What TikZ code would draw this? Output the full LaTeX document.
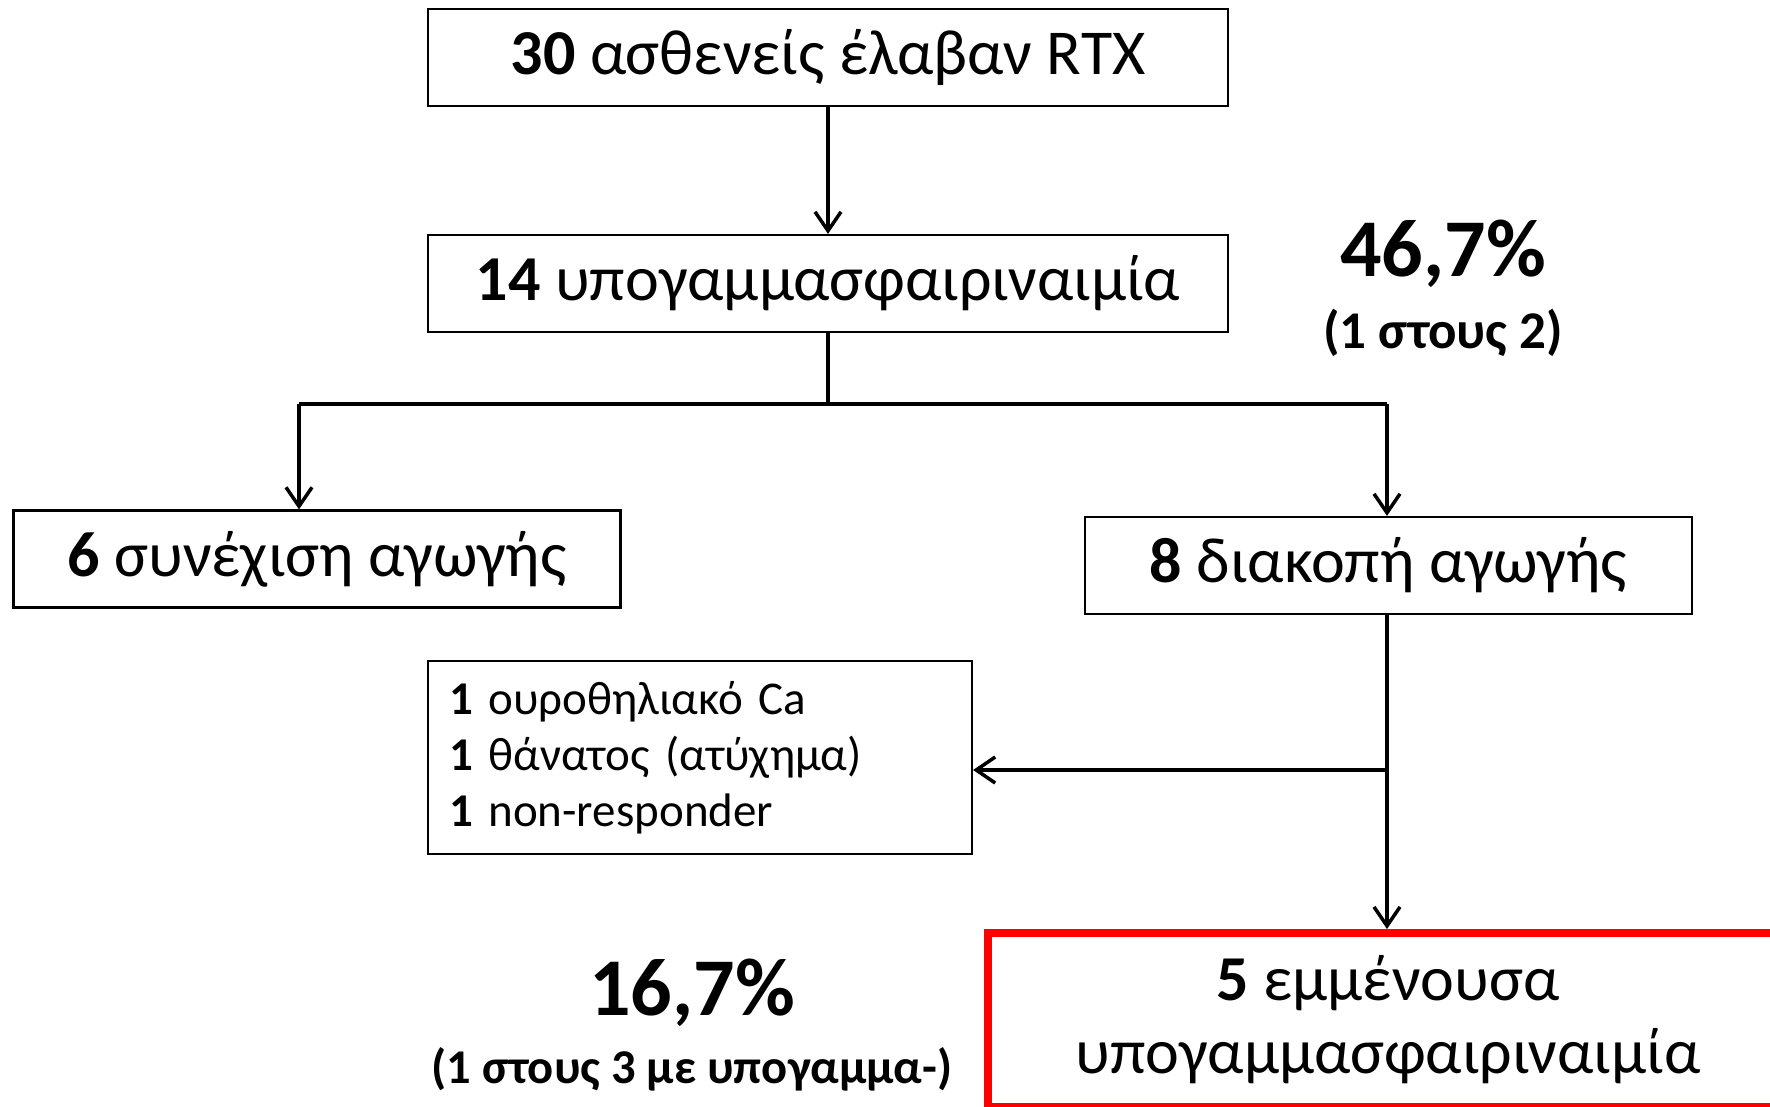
\documentclass[tikz,border=0pt]{standalone}
\usepackage{fontspec}
\setmainfont{Carlito}
\usetikzlibrary{arrows.meta}
\begin{document}
\begin{tikzpicture}[x=1pt,y=-1pt,
 boxstyle/.style={draw,line width=2.2pt,inner sep=0pt,minimum height=97pt,font=\fontsize{64}{76}\selectfont},
 liststyle/.style={draw,line width=2.2pt,inner xsep=21pt,inner ysep=0pt,minimum height=193pt,text width=502pt,align=left,font=\fontsize{47}{56}\selectfont},
 redstyle/.style={draw=red,line width=8pt,inner sep=0pt,minimum width=800pt,minimum height=174pt,align=center,font=\fontsize{64}{73}\selectfont},
 bigpct/.style={font=\fontsize{82}{90}\bfseries\selectfont},
 smallpct/.style={font=\fontsize{48}{56}\bfseries\selectfont},
 conn/.style={line width=3.5pt},
 arr/.style={conn,-{Straight Barb[length=19pt,width=26pt,line width=3.5pt]}}]
\useasboundingbox (0,0) rectangle (1770,1106);
\node[boxstyle,minimum width=800pt](total) at (828,57.5){\textbf{30} ασθενείς έλαβαν RTX};
\node[boxstyle,minimum width=800pt](hypo) at (828,283.5){\textbf{14} υπογαμμασφαιριναιμία};
\node[boxstyle,minimum width=607pt](cont) at (317,559){\textbf{6} συνέχιση αγωγής};
\node[boxstyle,minimum width=607pt](stop) at (1388.5,565.5){\textbf{8} διακοπή αγωγής};
\node[liststyle](lost) at (700,757.5){\textbf{1} ουροθηλιακό Ca\\\textbf{1} θάνατος (ατύχημα)\\\textbf{1} non-responder};
\node[redstyle](persist) at (1388,1020){\textbf{5} εμμένουσα\\υπογαμμασφαιριναιμία};
\node[bigpct](pcta) at (1443,254){46,7\%};
\node[smallpct,font=\fontsize{53}{60}\bfseries\selectfont](fraca) at (1443,333){(1 στους 2)};
\node[bigpct](pctb) at (692,993){16,7\%};
\node[smallpct,font=\fontsize{48.5}{56}\bfseries\selectfont](fracb) at (692,1069){(1 στους 3 με υπογαμμα-)};
\coordinate (split) at (828,404);
\coordinate (left) at (299,404);
\coordinate (right) at (1387,404);
\coordinate (branch) at (1387,770);
\draw[arr] (total) -- (hypo);
\draw[conn] (hypo) -- (split) (left) -- (right);
\draw[arr] (left) -- (left |- cont.north);
\draw[arr] (right) -- (right |- stop.north);
\draw[arr] (stop.south -| branch) -- (branch |- persist.north);
\draw[arr] (branch) -- (branch -| lost.east);
\end{tikzpicture}
\end{document}
